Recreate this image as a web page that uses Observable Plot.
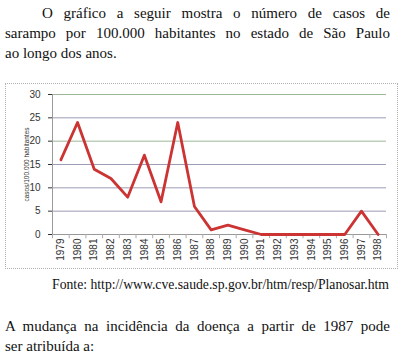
<!DOCTYPE html>
<html>
<head>
<meta charset="utf-8">
<script src="https://cdn.jsdelivr.net/npm/d3@7"></script>
<script src="https://cdn.jsdelivr.net/npm/@observablehq/plot@0.6"></script>
<style>
  html, body { margin: 0; padding: 0; background: #fff; }
  #page { position: relative; width: 401px; height: 360px; overflow: hidden; font-family: "Liberation Serif", "Times New Roman", serif; color: #111; }
  .para { position: absolute; left: 5px; width: 385px; font-size: 15px; line-height: 20px; }
  .j { text-align: justify; text-align-last: justify; white-space: nowrap; }
  .last { text-align: left; }
  #frame { position: absolute; left: 5px; top: 83px; width: 391px; height: 184px; border: 1px dotted #b0b0b0; }
  #chart { position: absolute; left: 0; top: 80px; }
  #fonte { position: absolute; left: 0; width: 389px; top: 277px; text-align: right; font-size: 13.7px; }
</style>
</head>
<body>
<div id="page">
  <div class="para" style="top:3px">
    <div class="j" style="padding-left:37px">O gráfico a seguir mostra o número de casos de</div>
    <div class="j">sarampo por 100.000 habitantes no estado de São Paulo</div>
    <div class="last">ao longo dos anos.</div>
  </div>
  <div id="frame"></div>
  <div id="chart"></div>
  <div id="fonte">Fonte: http://www.cve.saude.sp.gov.br/htm/resp/Planosar.htm</div>
  <div class="para" style="top:316px">
    <div class="j">A mudança na incidência da doença a partir de 1987 pode</div>
    <div class="last">ser atribuída a:</div>
  </div>
</div>
<script>
const years = [1979,1980,1981,1982,1983,1984,1985,1986,1987,1988,1989,1990,1991,1992,1993,1994,1995,1996,1997,1998];
const cases = [16,24,14,12,8,17,7,24,6,1,2,1,0,0,0,0,0,0,5,0];
const yTicks = [0,5,10,15,20,25,30];
const yLabel = "casos/100.000 habitantes";

const W = 401, ML = 52, MR = 15;
const rows = years.map((year, i) => ({year, cases: cases[i]}));
const bounds = years.map(y => y - 0.5).concat([years[years.length - 1] + 0.5]);
const x0 = bounds[0], x1 = bounds[bounds.length - 1];
const gridColor = v => (v === 20 || v === 30) ? "#9db896" : "#9c9cb6";

const chart = Plot.plot({
  width: W,
  height: 190,
  marginTop: 14,
  marginBottom: 36,
  marginLeft: ML,
  marginRight: MR,
  x: {type: "linear", domain: [x0, x1], ticks: years, tickFormat: d => String(d), tickRotate: -90, tickSize: 0, tickPadding: 4, label: null},
  y: {domain: [0, 30], ticks: yTicks, tickSize: 4, tickPadding: 8, label: null},
  style: {fontFamily: "'Liberation Sans', Arial, sans-serif", fontSize: "10px", color: "#333", background: "transparent"},
  marks: [
    Plot.ruleY(yTicks.filter(v => v > 0), {y: d => d, stroke: gridColor, strokeWidth: 1}),
    Plot.ruleY([0], {stroke: "#999"}),
    Plot.ruleX([x0], {y1: 0, y2: 30, stroke: "#999"}),
    Plot.ruleX(bounds, {x: d => d, y1: 0, y2: -0.9, stroke: "#aaa"}),
    Plot.line(rows, {x: "year", y: "cases", stroke: "#cc3333", strokeWidth: 2.8}),
    Plot.text([yLabel], {frameAnchor: "left", textAnchor: "middle", dx: -26, rotate: -90, fontSize: 6.5, fill: "#333"})
  ]
});
document.getElementById("chart").appendChild(chart);
</script>
</body>
</html>
